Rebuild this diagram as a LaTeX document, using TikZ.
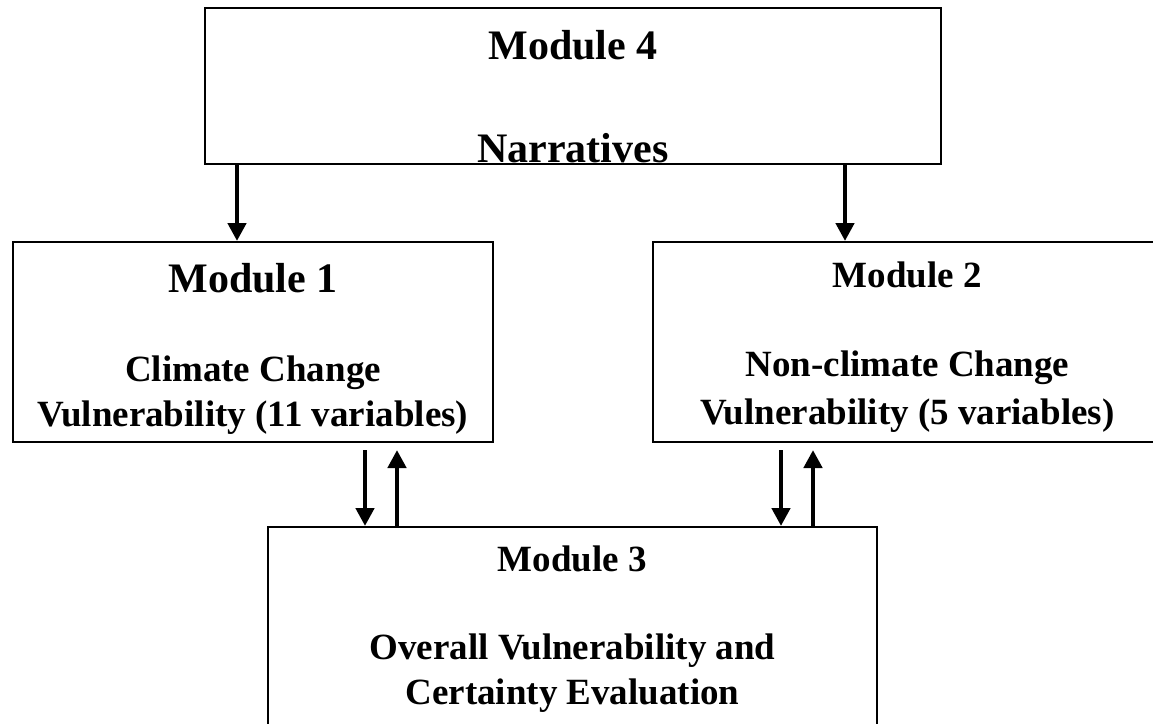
\documentclass[tikz,border=0pt]{standalone}
\usepackage{fontspec}
\setmainfont{Liberation Serif}
\usetikzlibrary{arrows.meta}

\tikzset{
  module/.style={draw,line width=2pt,inner sep=0pt},
  bigtxt/.style={anchor=base,inner sep=0pt,font=\fontsize{42}{46}\selectfont\bfseries},
  txt/.style={anchor=base,inner sep=0pt,font=\fontsize{37}{42}\selectfont\bfseries},
  link/.style={line width=4.5pt,-{Triangle[length=18pt,width=18pt]}}
}

\begin{document}
\begin{tikzpicture}[x=1pt,y=-1pt]
\useasboundingbox (0,0) rectangle (1153,723);
% boxes
\node[module,minimum width=736pt,minimum height=156pt] (m4) at (573,86) {};
\node[module,minimum width=480pt,minimum height=200pt] (m1) at (253,342) {};
\node[module,minimum width=509pt,minimum height=200pt] (m2) at (907.5,342) {};
\node[module,minimum width=609pt,minimum height=240pt] (m3) at (572.5,647) {};
% texts
\node[bigtxt] (m4a) at ([yshift=-52pt]m4.north) {Module 4};
\node[bigtxt] (m4b) at ([yshift=-155pt]m4.north) {Narratives};
\node[bigtxt] (m1a) at ([yshift=-51pt]m1.north) {Module 1};
\node[txt] (m1b) at ([yshift=-140pt]m1.north) {Climate Change};
\node[txt] (m1c) at ([yshift=-185pt]m1.north) {Vulnerability (11 variables)};
\node[txt] (m2a) at ([yshift=-46pt]m2.north) {Module 2};
\node[txt] (m2b) at ([yshift=-135pt]m2.north) {Non-climate Change};
\node[txt] (m2c) at ([yshift=-183pt]m2.north) {Vulnerability (5 variables)};
\node[txt] (m3a) at ([yshift=-45pt]m3.north) {Module 3};
\node[txt] (m3b) at ([yshift=-133pt]m3.north) {Overall Vulnerability and};
\node[txt] (m3c) at ([yshift=-178pt]m3.north) {Certainty Evaluation};
% arrows
\draw[link] ([xshift=-336pt]m4.south) -- ([xshift=-16pt]m1.north);
\draw[link] ([xshift=272pt]m4.south) -- ([xshift=-62.5pt]m2.north);
\draw[link] ([xshift=112pt,yshift=-7pt]m1.south) -- ([xshift=-207.5pt]m3.north);
\draw[link] ([xshift=-175.5pt]m3.north) -- ([xshift=144pt,yshift=-7pt]m1.south);
\draw[link] ([xshift=-126.5pt,yshift=-7pt]m2.south) -- ([xshift=208.5pt]m3.north);
\draw[link] ([xshift=240.5pt]m3.north) -- ([xshift=-94.5pt,yshift=-7pt]m2.south);
\end{tikzpicture}
\end{document}
